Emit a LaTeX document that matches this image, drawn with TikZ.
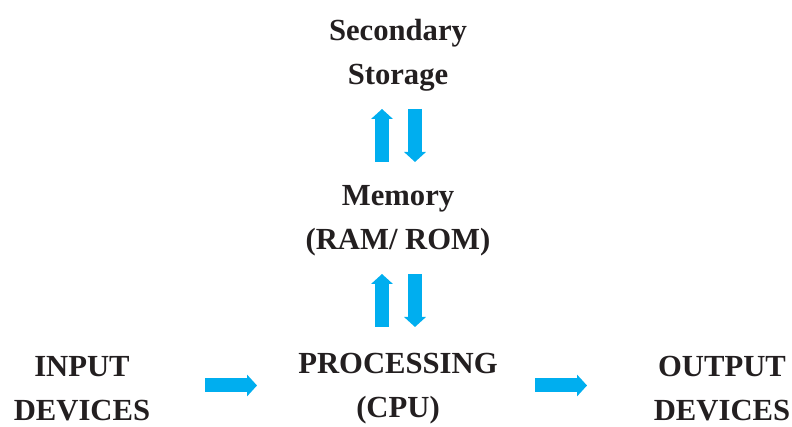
\documentclass[tikz,border=0pt]{standalone}
\usepackage{fontspec}
\setmainfont{Liberation Serif}
\usetikzlibrary{arrows.meta,calc,positioning}
\definecolor{flowblue}{HTML}{00AEEF}
\definecolor{txt}{HTML}{231F20}
\begin{document}
\begin{tikzpicture}[x=0.75pt,y=0.75pt,node distance=124.5pt,main node/.style={align=center,inner sep=0pt,text=txt,font=\bfseries\fontsize{23}{33}\selectfont},flow/.style={draw=flowblue,line width=10.5pt,-{Triangle[width=16pt,length=7.5pt]}}]
            \useasboundingbox (0,0) rectangle (792,427);
            \node[main node] (sec) at (398,372) {Secondary\\Storage};
            \node[main node] (mem) [below of=sec] {Memory\\(RAM/ ROM)};
            \node[main node] (proc) [below of=mem, node distance=126pt] {PROCESSING\\(CPU)};
            \node[main node] (inp) [left of=proc, node distance=237pt] {INPUT\\DEVICES};
            \node[main node] (out) [right of=proc, node distance=243pt] {OUTPUT\\DEVICES};
            \draw[flow] ($(mem)+(-16,59)$) -- ($(sec)+(-16,-54)$);
            \draw[flow] ($(sec)+(17,-54)$) -- ($(mem)+(17,59)$);
            \draw[flow] ($(proc)+(-16,62)$) -- ($(mem)+(-16,-53)$);
            \draw[flow] ($(mem)+(17,-53)$) -- ($(proc)+(17,62)$);
            \draw[flow] ($(inp)+(123,3.5)$) -- ($(proc)+(-141,3.5)$);
            \draw[flow] ($(proc)+(137,3.5)$) -- ($(out)+(-135,3.5)$);
        \end{tikzpicture}
\end{document}
